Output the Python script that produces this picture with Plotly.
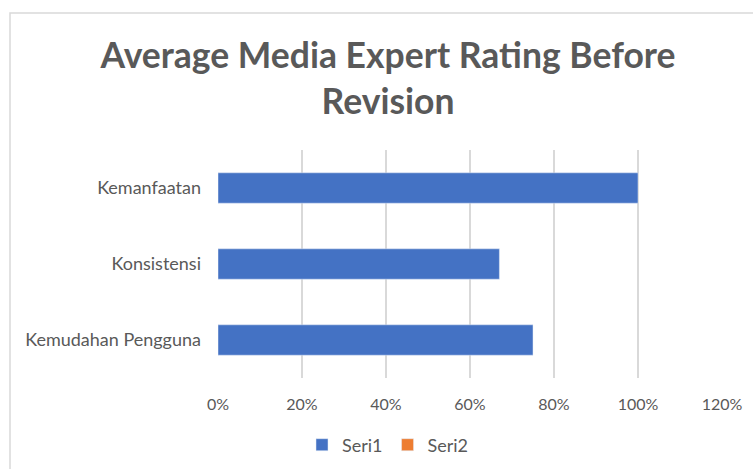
import plotly.graph_objects as go

categories = ["Kemudahan Pengguna", "Konsistensi", "Kemanfaatan"]
seri1 = [0.75, 0.67, 1.00]
seri2 = [None, None, None]
x_ticks = [0, 0.2, 0.4, 0.6, 0.8, 1.0, 1.2]
x_tick_labels = ["0%", "20%", "40%", "60%", "80%", "100%", "120%"]
title_text = "Average Media Expert Rating Before<br>Revision"

W, H = 753, 469
L, R, T, B = 218, 31, 150, 91
pw, ph = W - L - R, H - T - B
FONT = "Lato, 'Open Sans', sans-serif"

fig = go.Figure()
fig.add_trace(go.Bar(y=categories, x=seri1, orientation="h", name="Seri1",
                     marker=dict(color="#4472C4"), width=0.4))
fig.add_trace(go.Bar(y=categories, x=seri2, orientation="h", name="Seri2",
                     marker=dict(color="#ED7D31"), width=0.4))

def px_x(p):
    return (p - L) / pw

def px_y(p):
    return (H - B - p) / ph

fig.update_layout(
    width=W, height=H,
    margin=dict(l=L, r=R, t=T, b=B, autoexpand=False),
    paper_bgcolor="white", plot_bgcolor="white",
    barmode="overlay",
    font=dict(family=FONT, color="#595959", size=14),
    title=dict(text=title_text, x=388 / W, xanchor="center", y=1 - 68 / H, yanchor="middle",
               yref="container", xref="container",
               font=dict(size=35.5, color="#595959", family=FONT, weight="bold")),
    xaxis=dict(range=[0, 1.2], tickvals=x_ticks, ticktext=x_tick_labels,
               showgrid=True, gridcolor="#d9d9d9", gridwidth=1.5, zeroline=False,
               showline=False, ticks="", ticklabelstandoff=15, automargin=False,
               tickfont=dict(size=16, color="#595959"), fixedrange=True),
    yaxis=dict(showgrid=False, zeroline=False, showline=False, ticks="", automargin=False,
               ticklabelstandoff=16, tickfont=dict(size=18, color="#595959"), fixedrange=True),
    legend=dict(orientation="h", x=px_x(388), xanchor="center", y=px_y(445), yanchor="middle",
                font=dict(size=18, color="#595959"), itemwidth=30, traceorder="normal"),
    showlegend=True,
    shapes=[dict(type="rect", xref="paper", yref="paper",
                 x0=px_x(10), x1=px_x(770), y0=px_y(480), y1=px_y(13),
                 line=dict(color="#d9d9d9", width=1.5), fillcolor="rgba(0,0,0,0)", layer="below")],
)

fig.write_html("out.html", config={"displayModeBar": False},
               post_script="document.body.style.margin='0';document.body.style.overflow='hidden';")
